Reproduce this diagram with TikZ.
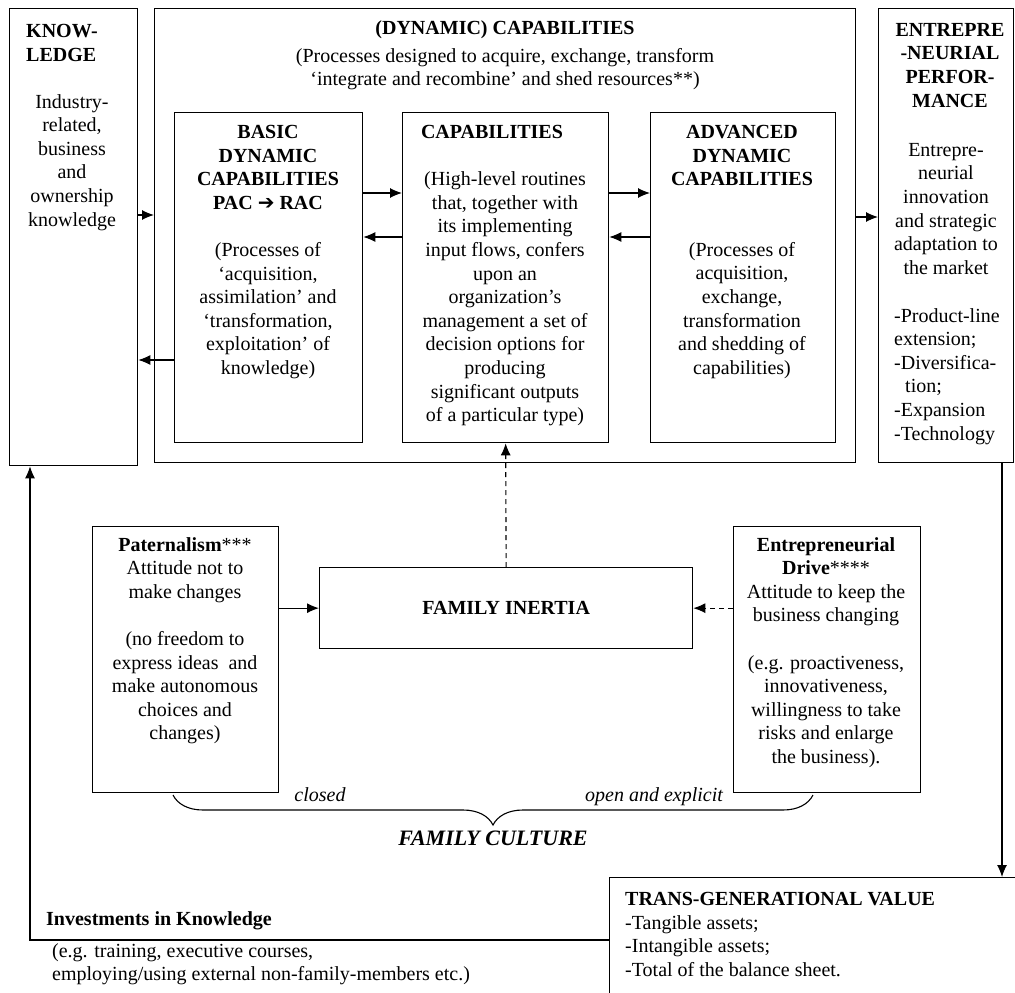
\documentclass[tikz,border=0pt]{standalone}
\usepackage{fontspec}
\setmainfont{Liberation Serif}
\newfontfamily\arrowfont{DejaVu Sans}
\usetikzlibrary{arrows.meta}
\usetikzlibrary{decorations.pathreplacing}

\newcommand{\bodysize}{\fontsize{20}{23.6}\selectfont}

\tikzset{
  box/.style={draw, line width=1.3pt, anchor=north west, inner sep=0pt},
  txt/.style={font=\bodysize, align=center, inner sep=0pt, anchor=north},
  link/.style={line width=1.1pt, -{Latex[length=12pt,width=10pt]}},
  dlink/.style={link, dash pattern=on 5pt off 4pt},
}

\begin{document}
\begin{tikzpicture}[x=1pt,y=-1pt]
\useasboundingbox (0,0) rectangle (1015,993);
\clip (0,0) rectangle (1015,993);

\node[box, minimum width=128pt, minimum height=457pt] (know) at (9,8) {};
\node[box, minimum width=701pt, minimum height=454pt] (dyn) at (154,8) {};
\node[box, minimum width=188pt, minimum height=330pt] (basic) at (174,112) {};
\node[box, minimum width=206pt, minimum height=330pt] (cap) at (402,112) {};
\node[box, minimum width=185pt, minimum height=330pt] (adv) at (650,112) {};
\node[box, minimum width=135pt, minimum height=454pt] (perf) at (878,8) {};
\node[box, minimum width=186pt, minimum height=266pt] (pat) at (92,526) {};
\node[box, minimum width=373pt, minimum height=81pt, font=\bodysize\bfseries] (inertia) at (319,567) {FAMILY INERTIA};
\node[box, minimum width=187pt, minimum height=266pt] (drive) at (733,526) {};
\node[box, minimum width=430pt, minimum height=140pt] (tgv) at (609,877) {};

\node[txt, anchor=north west, align=left, font=\bodysize\bfseries] (knowttl) at (26,24) {KNOW-\\LEDGE};
\node[txt] (knowtxt) at (72,94) {Industry-\\related,\\business\\and\\ownership\\knowledge};

\node[txt, font=\bodysize\bfseries] (dynttl) at (505,20) {(DYNAMIC) CAPABILITIES};
\node[txt] (dyntxt) at (505,48) {(Processes designed to acquire, exchange, transform\\‘integrate and recombine’ and shed resources**)};

\node[txt] (basictxt) at (268,125) {\textbf{BASIC}\\\textbf{DYNAMIC}\\\textbf{CAPABILITIES}\\\textbf{PAC {\arrowfont ➔} RAC}\\[23.6pt](Processes of\\‘acquisition,\\assimilation’ and\\‘transformation,\\exploitation’ of\\knowledge)};
\node[txt] (captxt) at (505,125) {\textbf{CAPABILITIES}\hspace*{26pt}\\[23.6pt](High-level routines\\that, together with\\its implementing\\input flows, confers\\upon an\\organization’s\\management a set of\\decision options for\\producing\\significant outputs\\of a particular type)};
\node[txt] (advtxt) at (742,125) {\textbf{ADVANCED}\\\textbf{DYNAMIC}\\\textbf{CAPABILITIES}\\[47pt](Processes of\\acquisition,\\exchange,\\transformation\\and shedding of\\capabilities)};

\node[txt, font=\bodysize\bfseries] (perfttl) at (950,23) {ENTREPRE\\-NEURIAL\\PERFOR-\\MANCE};
\node[txt] (perftxt) at (946,143) {Entrepre-\\neurial\\innovation\\and strategic\\adaptation to\\the market};
\node[txt, anchor=north west, align=left] (perflist) at (894,308) {-Product-line\\extension;\\-Diversifica-\\\hspace*{11pt}tion;\\-Expansion\\-Technology};

\node[txt] (pattxt) at (185,537) {\textbf{Paternalism}***\\Attitude not to\\make changes\\[23.6pt](no freedom to\\express ideas\ \ and\\make autonomous\\choices and\\changes)};
\node[txt] (drivetxt) at (826,537) {\textbf{Entrepreneurial}\\\textbf{Drive}****\\Attitude to keep the\\business changing\\[23.6pt](e.g. proactiveness,\\innovativeness,\\willingness to take\\risks and enlarge\\the business).};

\node[txt, anchor=base, font=\bodysize\itshape] (closed) at (320,801) {closed};
\node[txt, anchor=base, font=\bodysize\itshape] (open) at (654,801) {open and explicit};
\draw[line width=1.1pt, decorate, decoration={brace, amplitude=30pt, mirror}] (173,795) -- (813,795);
\node[txt, anchor=base, font=\fontsize{22}{26}\selectfont\bfseries\itshape] (culture) at (493,845) {FAMILY CULTURE};

\node[txt, anchor=base west, font=\bodysize\bfseries] (invttl) at (46,925) {Investments in Knowledge};
\node[txt, anchor=north west, align=left] (invtxt) at (52,943) {(e.g. training, executive courses,\\employing/using external non-family-members etc.)};
\node[txt, anchor=north west, align=left] (tgvtxt) at (625,892) {\textbf{TRANS-GENERATIONAL VALUE}\\-Tangible assets;\\-Intangible assets;\\-Total of the balance sheet.};

\draw[link] (know.east |- 0,215) -- (dyn.west |- 0,215);
\draw[link] (basic.west |- 0,360) -- (know.east |- 0,360);
\draw[link] (basic.east |- 0,193) -- (cap.west |- 0,193);
\draw[link] (cap.west |- 0,237) -- (basic.east |- 0,237);
\draw[link] (cap.east |- 0,193) -- (adv.west |- 0,193);
\draw[link] (adv.west |- 0,237) -- (cap.east |- 0,237);
\draw[link] (dyn.east |- 0,217) -- (perf.west |- 0,217);
\draw[dlink] (inertia.north) -- (cap.south);
\draw[link] (pat.east |- inertia) -- (inertia.west);
\draw[dlink] (drive.west |- inertia) -- (inertia.east);
\draw[link] (perf.south -| 1002,0) -- (tgv.north -| 1002,0);
\coordinate (invcorner) at (30,940);
\draw[link] (tgv.west |- invcorner) -- (invcorner) -- (know.south -| invcorner);
\end{tikzpicture}
\end{document}
